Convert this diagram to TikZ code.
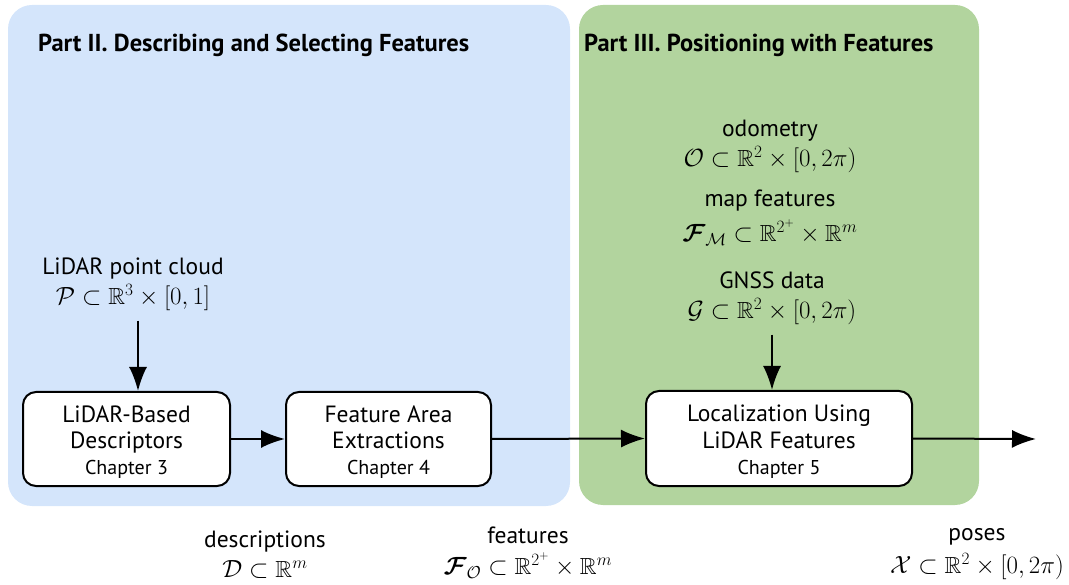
\documentclass[tikz,border=0pt]{standalone}
\usepackage{amsmath,amssymb}
\usepackage{fontspec}
\setmainfont{PT Sans}
\usetikzlibrary{arrows.meta}
\definecolor{partblue}{HTML}{D4E5FB}
\definecolor{partgreen}{HTML}{B2D49E}
\newcommand{\mtxt}{\fontsize{23.3}{30}\selectfont}
\newcommand{\chap}[1]{{\fontsize{20}{24}\selectfont #1}}
\newcommand{\topstrut}{\rule{0pt}{23pt}}
\begin{document}
\begin{tikzpicture}[x=1pt,y=-1pt,
  panel/.style={rounded corners=24pt},
  title/.style={anchor=west, inner sep=0pt, font=\fontsize{24.5}{28}\selectfont\bfseries},
  block/.style={draw, line width=2pt, fill=white, rounded corners=13pt,
    align=center, inner sep=0pt, font=\fontsize{23.5}{26.5}\selectfont},
  lbl/.style={align=center, inner sep=0pt, font=\fontsize{23.5}{30}\selectfont},
  flow/.style={line width=2pt, -{Latex[length=24pt,width=18pt]}}
]
\useasboundingbox (0,0) rectangle (1069,585);

% the two parts of the work
\fill[partblue, panel] (8,5) rectangle (570,506);
\fill[partgreen, panel] (579,5) rectangle (979,505);
\node[title] (t2) at (38,45) {Part II. Describing and Selecting Features};
\node[title] (t3) at (584,45) {Part III. Positioning with Features};

% processing blocks
\node[block, minimum width=207pt, minimum height=94pt] (desc) at (126.5,439)
  {\topstrut LiDAR-Based\\Descriptors\\\chap{Chapter 3}};
\node[block, minimum width=205pt, minimum height=94pt] (feat) at (388.5,439)
  {\topstrut Feature Area\\Extractions\\\chap{Chapter 4}};
\node[block, minimum width=266pt, minimum height=95pt] (loc) at (779,438.5)
  {\topstrut Localization Using\\LiDAR Features\\\chap{Chapter 5}};

% inputs
\node[lbl] (pc) at (133,284)
  {LiDAR point cloud\\{\mtxt$\mathcal{P}\subset\mathbb{R}^3\times[0,1]$}};
\node[lbl] (odo) at (770,146)
  {odometry\\{\mtxt$\mathcal{O}\subset\mathbb{R}^2\times[0,2\pi)$}};
\node[lbl] (map) at (770,218)
  {map features\\[5pt]{\mtxt$\boldsymbol{\mathcal{F}}_{\mathcal{M}}\subset\mathbb{R}^{2^+}\times\mathbb{R}^m$}};
\node[lbl] (gnss) at (772,298)
  {GNSS data\\{\mtxt$\mathcal{G}\subset\mathbb{R}^2\times[0,2\pi)$}};

% intermediate and final outputs
\node[lbl] (dsc) at (265,555)
  {descriptions\\{\mtxt$\mathcal{D}\subset\mathbb{R}^m$}};
\node[lbl] (fts) at (528,553)
  {features\\[1pt]{\mtxt$\boldsymbol{\mathcal{F}}_{\mathcal{O}}\subset\mathbb{R}^{2^+}\times\mathbb{R}^m$}};
\node[lbl] (pos) at (977,554)
  {poses\\[3pt]{\mtxt$\mathcal{X}\subset\mathbb{R}^2\times[0,2\pi)$}};
\coordinate (out) at (1036,439);

% data flow
\draw[flow] ([xshift=5pt,yshift=-10pt]pc.south) coordinate (pcs) -- (desc.north -| pcs);
\draw[flow] ([yshift=-10pt]gnss.south) coordinate (gns) -- (loc.north -| gns);
\draw[flow] (desc) -- (feat);
\draw[flow] (feat.east) -- (loc.west);
\draw[flow] (loc.east) -- (out);
\end{tikzpicture}
\end{document}
